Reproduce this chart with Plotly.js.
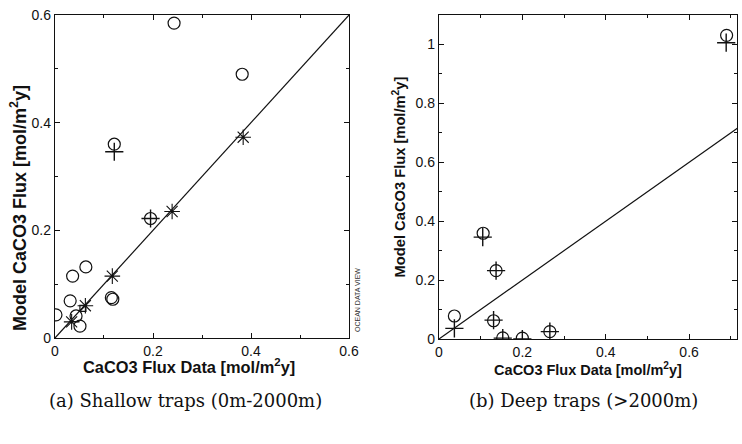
<!DOCTYPE html>
<html>
<head>
<meta charset="utf-8">
<script src="https://cdn.plot.ly/plotly-3.0.1.min.js"></script>
<style>html,body{margin:0;padding:0;background:#fff;}#chart{width:742px;height:444px;}</style>
</head>
<body>
<div id="chart"></div>
<script>
// (a) Shallow traps
const shallowCircleX = [0.243, 0.382, 0.121, 0.195, 0.063, 0.036, 0.031, 0.115, 0.118, 0.002, 0.051, 0.043];
const shallowCircleY = [0.585, 0.490, 0.360, 0.222, 0.132, 0.115, 0.069, 0.075, 0.072, 0.043, 0.022, 0.041];
const shallowCrossX = [0.121, 0.195];
const shallowCrossY = [0.346, 0.222];
const shallowStarX = [0.239, 0.384, 0.117, 0.062, 0.034];
const shallowStarY = [0.235, 0.373, 0.115, 0.060, 0.030];
const shallowSquareX = [0.057];
const shallowSquareY = [0.055];
const shallowLineX = [0, 0.6];
const shallowLineY = [0, 0.6];

// (b) Deep traps
const deepCircleX = [0.690, 0.106, 0.137, 0.037, 0.131, 0.153, 0.200, 0.266];
const deepCircleY = [1.031, 0.359, 0.232, 0.078, 0.062, 0.004, 0.003, 0.025];
const deepCrossX = [0.689, 0.105, 0.137, 0.037, 0.131, 0.153, 0.200, 0.266];
const deepCrossY = [1.006, 0.346, 0.232, 0.036, 0.064, 0.003, 0.000, 0.025];
const deepLineX = [0, 0.72];
const deepLineY = [0, 0.72];

const xTicksA = [0, 0.2, 0.4, 0.6];
const xTickTextA = ['0', '0.2', '0.4', '0.6'];
const yTicksA = [0, 0.2, 0.4, 0.6];
const yTickTextA = ['0', '0.2', '0.4', '0.6'];
const xTicksB = [0, 0.2, 0.4, 0.6];
const xTickTextB = ['0', '0.2', '0.4', '0.6'];
const yTicksB = [0, 0.2, 0.4, 0.6, 0.8, 1];
const yTickTextB = ['0', '0.2', '0.4', '0.6', '0.8', '1'];

const axisTitleY = 'Model CaCO3 Flux [mol/m<sup>2</sup>y]';
const axisTitleX = 'CaCO3 Flux Data [mol/m<sup>2</sup>y]';
const captionA = '(a) Shallow traps (0m-2000m)';
const captionB = '(b) Deep traps (>2000m)';
const watermark = 'OCEAN DATA VIEW';

const circ = {symbol: 'circle-open', size: 12, color: '#111', line: {width: 1.2, color: '#111'}};
const cross = {symbol: 'cross-thin-open', size: 13, color: '#111', line: {width: 1.4, color: '#111'}};
const star = {symbol: 'asterisk-open', size: 13, color: '#111', line: {width: 1.1, color: '#111'}};
const sq = {symbol: 'square-open', size: 6, color: '#111', line: {width: 1.2, color: '#111'}};

const traces = [
  {x: shallowLineX, y: shallowLineY, mode: 'lines', line: {color: '#111', width: 1.2}, xaxis: 'x', yaxis: 'y'},
  {x: shallowCircleX, y: shallowCircleY, mode: 'markers', marker: circ, xaxis: 'x', yaxis: 'y', cliponaxis: true},
  {x: shallowCrossX, y: shallowCrossY, mode: 'markers', marker: cross, xaxis: 'x', yaxis: 'y'},
  {x: shallowStarX, y: shallowStarY, mode: 'markers', marker: star, xaxis: 'x', yaxis: 'y'},
  {x: shallowSquareX, y: shallowSquareY, mode: 'markers', marker: sq, xaxis: 'x', yaxis: 'y'},
  {x: deepLineX, y: deepLineY, mode: 'lines', line: {color: '#111', width: 1.2}, xaxis: 'x2', yaxis: 'y2'},
  {x: deepCircleX, y: deepCircleY, mode: 'markers', marker: circ, xaxis: 'x2', yaxis: 'y2', cliponaxis: true},
  {x: deepCrossX, y: deepCrossY, mode: 'markers', marker: cross, xaxis: 'x2', yaxis: 'y2', cliponaxis: true}
];

const sans = 'Liberation Sans, Arial, Helvetica, sans-serif';
const tickFont = {family: sans, size: 14, color: '#111'};
function tf(size) { return {family: sans, size: size, color: '#111', weight: 'bold'}; }

function ax(extra) {
  return Object.assign({
    showgrid: false, zeroline: false, showline: true, linecolor: '#111', linewidth: 1.2,
    mirror: 'allticks', ticks: 'inside', ticklen: 5, tickcolor: '#111', tickwidth: 1,
    tickmode: 'array', tickfont: tickFont, fixedrange: true,
    minor: {ticks: 'inside', ticklen: 3, tickcolor: '#111', dtick: 0.1, tick0: 0}
  }, extra);
}

const layout = {
  width: 742, height: 444,
  margin: {l: 0, r: 0, t: 0, b: 0},
  paper_bgcolor: '#fff', plot_bgcolor: '#fff',
  showlegend: false,
  xaxis: ax({domain: [0.0741, 0.4704], range: [0, 0.6], tickvals: xTicksA, ticktext: xTickTextA, anchor: 'y'}),
  yaxis: ax({domain: [0.2387, 0.9662], range: [0, 0.6], tickvals: yTicksA, ticktext: yTickTextA, anchor: 'x'}),
  xaxis2: ax({domain: [0.5916, 0.9933], range: [0, 0.715], tickvals: xTicksB, ticktext: xTickTextB, anchor: 'y2',
    title: {text: axisTitleX, font: tf(14.5), standoff: 3}}),
  yaxis2: ax({domain: [0.2365, 0.9662], range: [0, 1.1], tickvals: yTicksB, ticktext: yTickTextB, anchor: 'x2',
    title: {text: axisTitleY, font: tf(14.7), standoff: 6}}),
  annotations: [
    {text: axisTitleX, xref: 'paper', yref: 'paper', x: 188.5 / 742, y: 1 - 366 / 444, showarrow: false,
      font: tf(16.4), xanchor: 'center', yanchor: 'middle'},
    {text: axisTitleY, xref: 'paper', yref: 'paper', x: 18 / 742, y: 1 - 208 / 444, showarrow: false, textangle: -90,
      font: tf(18), xanchor: 'center', yanchor: 'middle'},
    {text: captionA, xref: 'paper', yref: 'paper', x: 185 / 742, y: 1 - 400 / 444, showarrow: false,
      font: {family: 'DejaVu Serif, Liberation Serif, serif', size: 18, color: '#111'}, xanchor: 'center', yanchor: 'middle'},
    {text: captionB, xref: 'paper', yref: 'paper', x: 583 / 742, y: 1 - 400 / 444, showarrow: false,
      font: {family: 'DejaVu Serif, Liberation Serif, serif', size: 18, color: '#111'}, xanchor: 'center', yanchor: 'middle'},
    {text: watermark, xref: 'paper', yref: 'paper', x: 357 / 742, y: 1 - 300 / 444, showarrow: false, textangle: -90,
      font: {family: sans, size: 7, color: '#333'}, xanchor: 'center', yanchor: 'middle'}
  ]
};

Plotly.newPlot('chart', traces, layout, {staticPlot: true, displayModeBar: false});
</script>
</body>
</html>
